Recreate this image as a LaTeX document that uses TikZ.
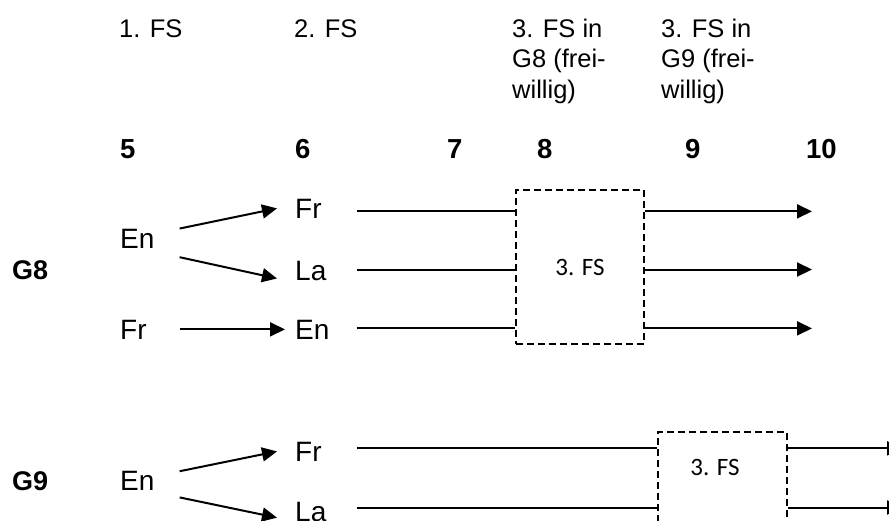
\documentclass[tikz,border=0pt]{standalone}
\usepackage{fontspec}
\setmainfont{Liberation Sans}
\newfontfamily\boxfont{Carlito}
\usetikzlibrary{arrows.meta}
\begin{document}
\begin{tikzpicture}[x=1pt,y=-1pt,
  lbl/.style={inner sep=0pt, anchor=base west, font=\fontsize{28}{34}\selectfont},
  hdr/.style={inner sep=0pt, anchor=base west, font=\fontsize{25.5}{30.5}\selectfont},
  hdrm/.style={inner sep=0pt, anchor=north west, align=left, font=\fontsize{25.5}{30.5}\selectfont},
  num/.style={inner sep=0pt, anchor=base west, font=\fontsize{27.5}{33}\selectfont\bfseries},
  grp/.style={inner sep=0pt, anchor=base west, font=\fontsize{27}{32}\selectfont\bfseries},
  fsbox/.style={draw, line width=1.6pt, dash pattern=on 7pt off 4pt, inner sep=0pt},
  fstext/.style={inner sep=0pt, font=\boxfont\fontsize{25}{30}\selectfont},
  arr/.style={line width=2pt, -{Triangle[length=15pt,width=14pt]}},
  ln/.style={line width=2pt},
]
\clip (0,0) rectangle (889,520);
\fill[white] (0,0) rectangle (889,520);

% column headings
\node[hdr] (h1) at (119,37) {1. FS};
\node[hdr] (h2) at (294,37) {2. FS};
\node[hdrm] (h3) at (512,18.5) {3. FS in\\G8 (frei-\\willig)};
\node[hdrm] (h4) at (661,18.5) {3. FS in\\G9 (frei-\\willig)};

% school years
\node[num] (y5) at (120,158) {5};
\node[num] (y6) at (295,158) {6};
\node[num] (y7) at (447,158) {7};
\node[num] (y8) at (537,158) {8};
\node[num] (y9) at (685,158) {9};
\node[num] (y10) at (806,158) {10};

% G8 track
\node[grp] (g8) at (12,279) {G8};
\node[lbl] (en1) at (120,248) {En};
\node[lbl] (fr1) at (295,218) {Fr};
\node[lbl] (la1) at (295,280) {La};
\node[lbl] (fr2) at (120,339) {Fr};
\node[lbl] (en2) at (295,339) {En};
\node[fsbox, minimum width=128pt, minimum height=154pt, fstext] (box1) at (580,267) {3. FS};

\draw[arr] ([xshift=25pt]en1.north east) -- ([xshift=-18pt]fr1.west);
\draw[arr] ([xshift=25pt,yshift=-9pt]en1.south east) -- ([xshift=-18pt,yshift=2pt]la1.south west);
\draw[arr] ([xshift=33pt]fr2.east) -- ([xshift=-10pt]en2.west);

\coordinate (s1) at ([xshift=35pt,yshift=-3pt]fr1.east);
\coordinate (s2) at ([xshift=30pt,yshift=1pt]la1.east);
\coordinate (s3) at ([xshift=27pt,yshift=1pt]en2.east);
\coordinate (tipA) at (812,0);
\draw[ln] (s1) -- (s1 -| box1.west);
\draw[ln] (s2) -- (s2 -| box1.west);
\draw[ln] (s3) -- (s3 -| box1.west);
\draw[arr] (s1 -| box1.east) -- (s1 -| tipA);
\draw[arr] (s2 -| box1.east) -- (s2 -| tipA);
\draw[arr] (s3 -| box1.east) -- (s3 -| tipA);

% G9 track
\node[grp] (g9) at (12,490) {G9};
\node[lbl] (en3) at (120,490.7) {En};
\node[lbl] (fr3) at (295,461) {Fr};
\node[lbl] (la3) at (295,521.7) {La};
\node[fsbox, minimum width=129pt, minimum height=154pt] (box2) at (722.5,509) {};
\node[fstext] (t2) at (715,467) {3. FS};

\draw[arr] ([xshift=25pt]en3.north east) -- ([xshift=-18pt]fr3.west);
\draw[arr] ([xshift=25pt,yshift=-6.5pt]en3.south east) -- ([xshift=-18pt,yshift=4.5pt]la3.south west);

\coordinate (s4) at ([xshift=35pt,yshift=3pt]fr3.east);
\coordinate (s5) at ([xshift=30pt,yshift=4.7pt]la3.east);
\coordinate (tipB) at (902,0);
\draw[ln] (s4) -- (s4 -| box2.west);
\draw[ln] (s5) -- (s5 -| box2.west);
\draw[arr] (s4 -| box2.east) -- (s4 -| tipB);
\draw[arr] (s5 -| box2.east) -- (s5 -| tipB);
\end{tikzpicture}
\end{document}
